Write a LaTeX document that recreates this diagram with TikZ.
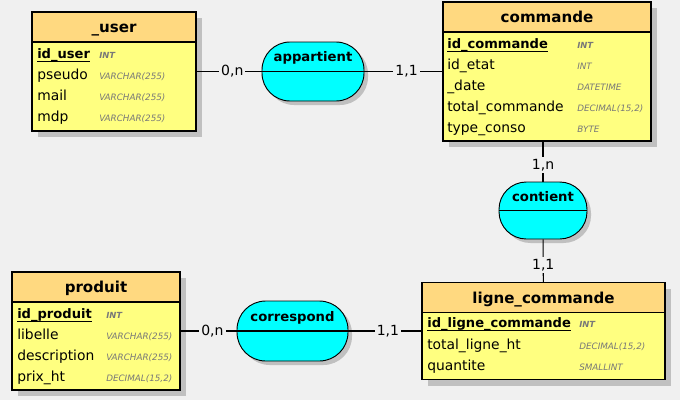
\documentclass[tikz,border=0pt]{standalone}
\usepackage{fontspec}
\setmainfont{DejaVu Sans}
\usetikzlibrary{positioning,shadows}

\definecolor{canvas}{HTML}{F0F0F0}
\definecolor{headfill}{HTML}{FFD980}
\definecolor{bodyfill}{HTML}{FFFF80}
\definecolor{assocfill}{HTML}{00FFFF}
\definecolor{typegray}{HTML}{787878}
\definecolor{shadowgray}{HTML}{C0C0C0}

\begin{document}
\begin{tikzpicture}[
    x=0.75pt, y=-0.75pt,
    entity/.style={rectangle, draw, line width=0.8pt, fill=bodyfill,
        drop shadow={shadow xshift=4.5pt, shadow yshift=-4.5pt, fill=shadowgray, opacity=1}},
    header/.style={rectangle, draw, line width=0.8pt, fill=headfill, anchor=north,
        minimum height=22.5pt, text height=8.5pt, text depth=0pt,
        font=\fontsize{11.3}{13}\selectfont\bfseries},
    attr/.style={anchor=base west, inner sep=0pt, font=\fontsize{10.4}{12}\selectfont},
    key/.style={attr, font=\fontsize{9.8}{12}\selectfont\bfseries},
    type/.style={anchor=base west, inner sep=0pt, text=typegray, font=\fontsize{6.6}{8}\selectfont\itshape},
    keytype/.style={type, font=\fontsize{6.3}{8}\selectfont\bfseries\itshape},
    assoc/.style={rectangle, rounded corners=21pt, draw, line width=0.7pt, fill=assocfill,
        drop shadow={shadow xshift=3pt, shadow yshift=-3pt, fill=shadowgray, opacity=1}},
    assoclabel/.style={anchor=base, font=\fontsize{9.9}{12}\selectfont\bfseries},
    link/.style={line width=0.8pt},
    card/.style={fill=canvas, inner sep=1.5pt, font=\fontsize{10.5}{12}\selectfont},
    keyline/.style={line width=0.8pt}
]

% Canvas
\fill[canvas] (0,0) rectangle (680,400);
\useasboundingbox (0,0) rectangle (680,400);

% Entity _user
\node[entity, minimum width=123pt, minimum height=89.25pt] (user) at (114,71.5) {};
\node[header, minimum width=123pt] (userhead) at (user.north) {\_user};
\node[key] (iduser) at (37,58) {id\_user};
\node[keytype] (tiduser) at (99,58) {INT};
\node[attr] (pseudo) at (37,79) {pseudo};
\node[type] (tpseudo) at (99,79) {VARCHAR(255)};
\node[attr] (mail) at (37,100) {mail};
\node[type] (tmail) at (99,100) {VARCHAR(255)};
\node[attr] (mdp) at (37,121) {mdp};
\node[type] (tmdp) at (99,121) {VARCHAR(255)};
\draw[keyline] (iduser.south west) -- (iduser.south east);

% Entity commande
\node[entity, minimum width=156pt, minimum height=104.25pt] (commande) at (547,71.5) {};
\node[header, minimum width=156pt] (commandehead) at (commande.north) {commande};
\node[key] (idcommande) at (447,48) {id\_commande};
\node[keytype] (tidcommande) at (577,48) {INT};
\node[attr] (idetat) at (447,69) {id\_etat};
\node[type] (tidetat) at (577,69) {INT};
\node[attr] (date) at (447,90) {\_date};
\node[type] (tdate) at (577,90) {DATETIME};
\node[attr] (totalcommande) at (447,111) {total\_commande};
\node[type] (ttotalcommande) at (577,111) {DECIMAL(15,2)};
\node[attr] (typeconso) at (447,132) {type\_conso};
\node[type] (ttypeconso) at (577,132) {BYTE};
\draw[keyline] (idcommande.south west) -- (idcommande.south east);

% Entity produit
\node[entity, minimum width=126pt, minimum height=88.5pt] (produit) at (96,331) {};
\node[header, minimum width=126pt] (produithead) at (produit.north) {produit};
\node[key] (idproduit) at (17,318) {id\_produit};
\node[keytype] (tidproduit) at (106,318) {INT};
\node[attr] (libelle) at (17,339) {libelle};
\node[type] (tlibelle) at (106,339) {VARCHAR(255)};
\node[attr] (description) at (17,360) {description};
\node[type] (tdescription) at (106,360) {VARCHAR(255)};
\node[attr] (prixht) at (17,381) {prix\_ht};
\node[type] (tprixht) at (106,381) {DECIMAL(15,2)};
\draw[keyline] (idproduit.south west) -- (idproduit.south east);

% Entity ligne_commande
\node[entity, minimum width=182.25pt, minimum height=72.75pt] (ligne) at (543.5,331) {};
\node[header, minimum width=182.25pt] (lignehead) at (ligne.north) {ligne\_commande};
\node[key] (idligne) at (427,327) {id\_ligne\_commande};
\node[keytype] (tidligne) at (579,327) {INT};
\node[attr] (totalligne) at (427,349) {total\_ligne\_ht};
\node[type] (ttotalligne) at (579,349) {DECIMAL(15,2)};
\node[attr] (quantite) at (427,370) {quantite};
\node[type] (tquantite) at (579,370) {SMALLINT};
\draw[keyline] (idligne.south west) -- (idligne.south east);

% Associations
\node[assoc, minimum width=76.5pt, minimum height=44.25pt] (appartient) at (313,71.5) {};
\draw[link] (appartient.west) -- (appartient.east);
\node[assoclabel] (appartientlabel) at (313,61.7) {appartient};

\node[assoc, rounded corners=20.5pt, minimum width=66pt, minimum height=42.75pt] (contient) at (543,210.5) {};
\draw[link] (contient.west) -- (contient.east);
\node[assoclabel] (contientlabel) at (543,201.7) {contient};

\node[assoc, rounded corners=21.5pt, minimum width=83.25pt, minimum height=45pt] (correspond) at (292.5,331) {};
\draw[link] (correspond.west) -- (correspond.east);
\node[assoclabel] (correspondlabel) at (292.5,321.7) {correspond};

% Links with cardinalities
\draw[link] (user) -- node[card, pos=0.55] (carduser) {0,n} (appartient);
\draw[link] (appartient) -- node[card, pos=0.54] (cardcommande) {1,1} (commande);
\draw[link] (contient) -- node[card, pos=0.41] (cardcontient) {1,n} (contient |- commande.south);
\draw[link] (contient) -- node[card, pos=0.6] (cardligne) {1,1} (ligne);
\draw[link] (produit) -- node[card, pos=0.57] (cardproduit) {0,n} (correspond);
\draw[link] (correspond) -- node[card, pos=0.54] (cardcorrespond) {1,1} (ligne);

\end{tikzpicture}
\end{document}
